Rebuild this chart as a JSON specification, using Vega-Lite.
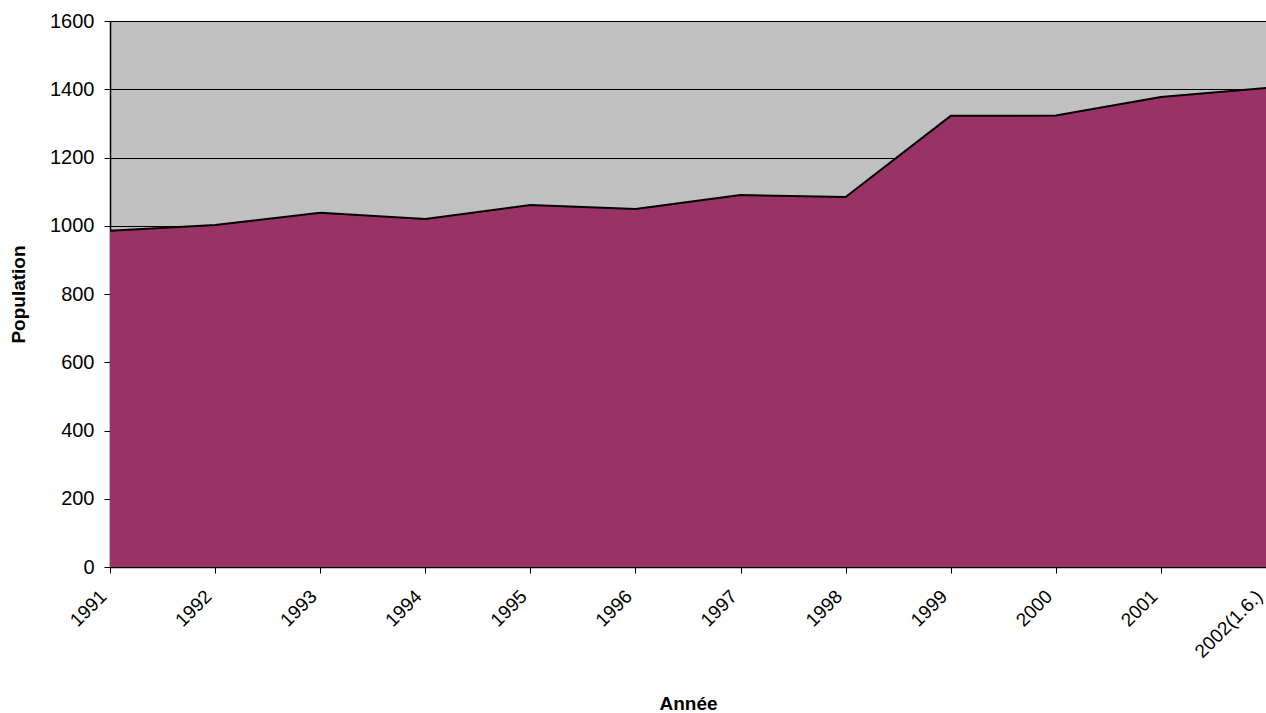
{
  "$schema": "https://vega.github.io/schema/vega-lite/v6.json",
  "width": 1156,
  "height": 546,
  "autosize": {"type": "none"},
  "padding": {"left": 110, "top": 21, "right": 0, "bottom": 146},
  "background": "white",
  "config": {
    "view": {"fill": "#C0C0C0", "stroke": null},
    "font": "Liberation Sans"
  },
  "data": {
    "values": [
      {"annee": "1991", "population": 985},
      {"annee": "1992", "population": 1002},
      {"annee": "1993", "population": 1038},
      {"annee": "1994", "population": 1020},
      {"annee": "1995", "population": 1061},
      {"annee": "1996", "population": 1049},
      {"annee": "1997", "population": 1090},
      {"annee": "1998", "population": 1084},
      {"annee": "1999", "population": 1322},
      {"annee": "2000", "population": 1323},
      {"annee": "2001", "population": 1377},
      {"annee": "2002(1.6.)", "population": 1404}
    ]
  },
  "mark": {
    "type": "area",
    "color": "#993366",
    "opacity": 1,
    "line": {"color": "black", "strokeWidth": 2}
  },
  "encoding": {
    "x": {
      "field": "annee",
      "type": "ordinal",
      "sort": null,
      "scale": {"type": "point", "padding": 0},
      "axis": {
        "title": "Année",
        "titleFont": "Liberation Sans",
        "titleFontSize": 19,
        "titleFontWeight": "bold",
        "titleColor": "black",
        "titleY": 142,
        "titleBaseline": "alphabetic",
        "labelAngle": -45,
        "labelAlign": "right",
        "labelBaseline": "middle",
        "labelFontSize": 19,
        "labelColor": "black",
        "labelPadding": 20,
        "labelOffset": -7,
        "labelOverlap": false,
        "labelBound": false,
        "labelFlush": false,
        "tickSize": 6,
        "tickColor": "black",
        "domainColor": "black",
        "domainWidth": 1.5,
        "grid": false
      }
    },
    "y": {
      "field": "population",
      "type": "quantitative",
      "scale": {"domain": [0, 1600], "nice": false, "zero": true},
      "axis": {
        "title": "Population",
        "titleFont": "Liberation Sans",
        "titleFontSize": 19,
        "titleFontWeight": "bold",
        "titleColor": "black",
        "titleX": -86,
        "titleBaseline": "alphabetic",
        "values": [0, 200, 400, 600, 800, 1000, 1200, 1400, 1600],
        "format": "d",
        "labelFontSize": 20,
        "labelColor": "black",
        "labelPadding": 10,
        "tickSize": 6,
        "tickColor": "black",
        "domainColor": "black",
        "domainWidth": 1.5,
        "grid": true,
        "gridColor": "black",
        "gridWidth": 1,
        "gridOpacity": 1
      }
    }
  }
}
